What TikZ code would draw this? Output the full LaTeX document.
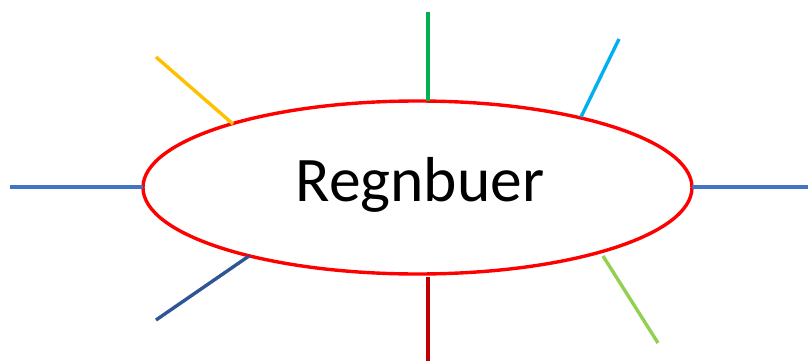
\documentclass[tikz,border=0pt]{standalone}
\usepackage{fontspec}
\setmainfont{Carlito}
\usetikzlibrary{shapes.geometric}
\begin{document}
\begin{tikzpicture}[x=1pt,y=-1pt,
  spoke/.style={line width=3.4pt},
  rim/.style={draw=red,line width=3.4pt}]
\definecolor{cgreen}{HTML}{00B050}
\definecolor{ccyan}{HTML}{00B0F0}
\definecolor{cyellow}{HTML}{FFC000}
\definecolor{cblue}{HTML}{4472C4}
\definecolor{cdblue}{HTML}{2F5597}
\definecolor{cdred}{HTML}{C00000}
\definecolor{clgreen}{HTML}{92D050}
\useasboundingbox (0,0) rectangle (808,361);
\node[rim,ellipse,minimum width=549pt,minimum height=173pt,inner sep=0pt] (e) at (417.5,187.5) {};
\node[anchor=base,font=\fontsize{63.5}{72}\selectfont] (t) at (420,201) {Regnbuer};
\coordinate (g1) at (428,12);
\coordinate (g2) at (428,101);
\coordinate (c1) at (619,39);
\coordinate (c2) at (581,117);
\coordinate (y1) at (156,57);
\coordinate (y2) at (233,124);
\coordinate (l1) at (10,187);
\coordinate (l2) at (143,187);
\coordinate (r1) at (692,187);
\coordinate (r2) at (808,187);
\coordinate (d1) at (156,320);
\coordinate (d2) at (249,256);
\coordinate (m1) at (428,277);
\coordinate (m2) at (428,361);
\coordinate (n1) at (603,256);
\coordinate (n2) at (658,343);
\draw[spoke,cgreen] (g1) -- (g2);
\draw[spoke,ccyan] (c1) -- (c2);
\draw[spoke,cyellow] (y1) -- (y2);
\draw[spoke,cblue] (l1) -- (l2);
\draw[spoke,cblue] (r1) -- (r2);
\draw[spoke,cdblue] (d1) -- (d2);
\draw[spoke,cdred] (m1) -- (m2);
\draw[spoke,clgreen] (n1) -- (n2);
\end{tikzpicture}
\end{document}
